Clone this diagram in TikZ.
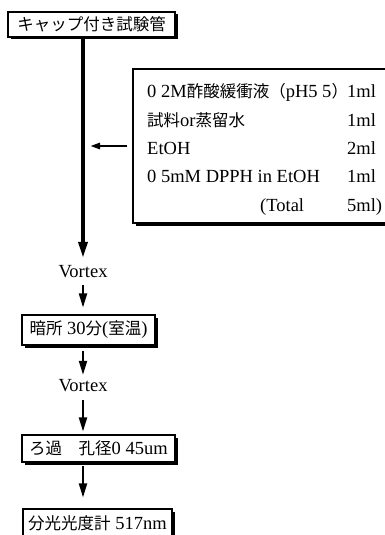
\documentclass[tikz,border=0pt]{standalone}
\usepackage{fontspec}
\setmainfont{Liberation Serif}
\newfontfamily\jpfont{Noto Sans CJK JP}
\newcommand\J[1]{{\fontsize{16.5}{19}\jpfont #1}}
\usetikzlibrary{arrows.meta,shadows}
\begin{document}
\begin{tikzpicture}[x=1pt,y=-1pt,
  font=\fontsize{18.5}{22}\selectfont,
  box/.style={draw=black, line width=1.1pt, fill=white, inner sep=0pt,
    drop shadow={shadow xshift=2.5pt, shadow yshift=-2.5pt, fill=black, opacity=1}},
  lbl/.style={inner sep=0pt, text height=12pt, text depth=3pt},
  flow/.style={line width=2pt, -{Triangle[length=14pt,width=8pt]}},
  mainflow/.style={line width=3.5pt, -{Triangle[length=16pt,width=9pt]}},
  feed/.style={line width=2.5pt, -{Triangle[length=10pt,width=6pt]}}]
\useasboundingbox (0,0) rectangle (385,535);
\clip (0,0) rectangle (385,535);
\node[box, minimum width=167pt, minimum height=25pt] (tube) at (91.5,24.5) {\J{キャップ付き試験管}};
\node[box, minimum width=262pt, minimum height=154pt] (reag) at (264,146) {};
\node[lbl, anchor=west] (r1) at (147,93) {0 2M\J{酢酸緩衝液（}pH5 5\J{）}};
\node[lbl, anchor=west] (a1) at (347,93) {1ml};
\node[lbl, anchor=west] (r2) at (147,122) {\J{試料}or\J{蒸留水}};
\node[lbl, anchor=west] (a2) at (347,122) {1ml};
\node[lbl, anchor=west] (r3) at (147,150) {EtOH};
\node[lbl, anchor=west] (a3) at (347,150) {2ml};
\node[lbl, anchor=west] (r4) at (147,178) {0 5mM DPPH in EtOH};
\node[lbl, anchor=west] (a4) at (347,178) {1ml};
\node[lbl, anchor=west] (r5) at (260,207) {(Total};
\node[lbl, anchor=west] (a5) at (347,207) {5ml)};
\node[lbl] (vA) at (83,273) {Vortex};
\node[box, minimum width=133pt, minimum height=30pt] (dark) at (88.5,330) {\J{暗所}\ 30\J{分}(\J{室温})};
\node[lbl] (vB) at (83,387) {Vortex};
\node[box, minimum width=153pt, minimum height=27pt] (filt) at (98.5,448.5) {\J{ろ過　孔径}0 45um};
\node[box, minimum width=149pt, minimum height=28pt] (spec) at (97.5,523) {\J{分光光度計} 517nm};
\draw[mainflow, shorten >=7.5pt] (vA.north |- tube.south) -- (vA.north);
\draw[feed, shorten <=5pt, shorten >=7pt] (reag.west) -- (reag.west -| vA.center);
\draw[flow, shorten <=4.5pt, shorten >=7pt] (vA.south) -- (vA.south |- dark.north);
\draw[flow, shorten <=5pt, shorten >=4.5pt] (vA.south |- dark.south) -- (vB.north);
\draw[flow, shorten <=5.5pt, shorten >=3pt] (vB.south) -- (vB.south |- filt.north);
\draw[flow, shorten <=3pt, shorten >=11pt] (vB.south |- filt.south) -- (vB.south |- spec.north);
\end{tikzpicture}
\end{document}
